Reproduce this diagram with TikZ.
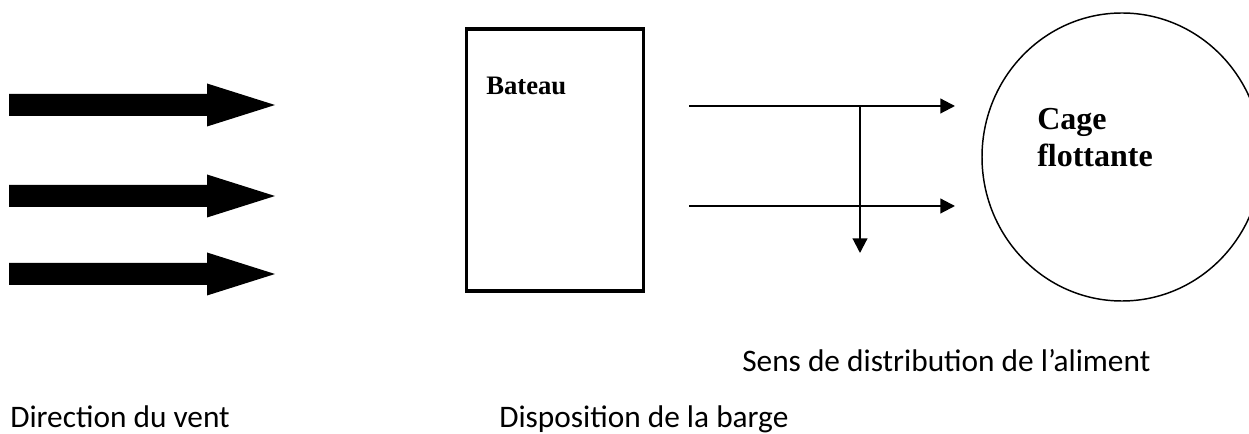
\documentclass[tikz,border=0pt]{standalone}
\usepackage{fontspec}
\setmainfont{Liberation Serif}
\newfontfamily\labelfont{Carlito}
\usetikzlibrary{arrows.meta}
\begin{document}
\begin{tikzpicture}[x=0.75pt,y=-0.75pt,
  windarrow/.style={fill=black},
  feedline/.style={line width=1.6pt,-{Triangle[length=11pt,width=11pt]}},
  caption/.style={font=\labelfont\fontsize{23.5}{28}\selectfont,anchor=base west,inner sep=0pt},
  boldlabel/.style={font=\bfseries\fontsize{20}{24}\selectfont,anchor=base west,inner sep=0pt,align=left}]
\useasboundingbox (0,0) rectangle (1249,434);
% wind arrows
\foreach \y/\n in {105/w1,196/w2,274/w3}{
  \fill[windarrow] (9,\y-11) -- (207,\y-11) -- (207,\y-21.5) -- (275,\y) -- (207,\y+21.5) -- (207,\y+11) -- (9,\y+11) -- cycle;
}
% boat
\node[draw,line width=2.5pt,minimum width=132.75pt,minimum height=196.5pt,inner sep=0pt,anchor=north west] (boat) at (464.5,27.5) {};
\node[boldlabel] (boatlbl) at (486,95) {Bateau};
% cage
\draw[line width=1.1pt] (1122,157) ellipse [x radius=140, y radius=144];
\coordinate (cage) at (1122,157);
\node[boldlabel,font=\bfseries\fontsize{24}{28}\selectfont] (cagelbl) at (1037,167) {Cage\\flottante};
% feed lines
\coordinate (a1) at (689,106);
\coordinate (b1) at (955,106);
\coordinate (a2) at (689,206);
\coordinate (b2) at (955,206);
\coordinate (v1) at (860,106);
\coordinate (v2) at (860,253);
\draw[feedline] (a1) -- (b1);
\draw[feedline] (a2) -- (b2);
\draw[feedline] (v1) -- (v2);
% captions
\node[caption] (sens) at (742,372) {Sens de distribution de l’aliment};
\node[caption] (dir) at (10,427) {Direction du vent};
\node[caption] (disp) at (499,427) {Disposition de la barge};
\end{tikzpicture}
\end{document}
